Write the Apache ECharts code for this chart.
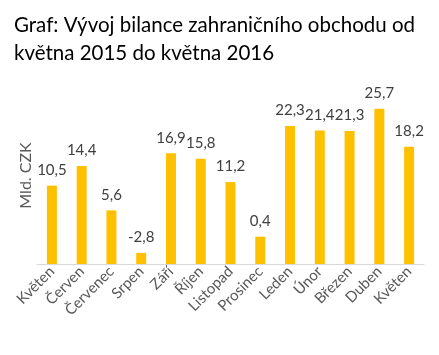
<!DOCTYPE html>
<html>
<head>
<meta charset="utf-8">
<script src="https://cdn.jsdelivr.net/npm/echarts@6/dist/echarts.min.js"></script>
<style>
html,body{margin:0;padding:0;background:#fff;}
#chart{width:439px;height:355px;}
</style>
</head>
<body>
<div id="chart"></div>
<script>
const titleLines = ['Graf: Vývoj bilance zahraničního obchodu od', 'května 2015 do května 2016'];
const categories = ['Květen', 'Červen', 'Červenec', 'Srpen', 'Září', 'Říjen', 'Listopad', 'Prosinec', 'Leden', 'Únor', 'Březen', 'Duben', 'Květen'];
const values = [10.5, 14.4, 5.6, -2.8, 16.9, 15.8, 11.2, 0.4, 22.3, 21.4, 21.3, 25.7, 18.2];
const axisName = 'Mld. CZK';
const axisMin = -5;
const axisMax = 30;

const chart = echarts.init(document.getElementById('chart'), null, {renderer: 'canvas'});
chart.setOption({
  animation: false,
  backgroundColor: '#fff',
  title: {
    text: titleLines.join('\n'),
    left: 9,
    top: 6,
    textStyle: {fontFamily: 'Lato', fontSize: 20.5, fontWeight: 'normal', color: '#000', lineHeight: 28}
  },
  grid: {left: 37, right: 15, top: 87, bottom: 91, containLabel: false},
  xAxis: {
    type: 'category',
    data: categories,
    axisLine: {onZero: false, lineStyle: {color: '#D9D9D9', width: 1}},
    axisTick: {show: false},
    axisLabel: {rotate: 45, interval: 0, margin: 5, color: '#595959', fontFamily: 'Lato', fontSize: 15}
  },
  yAxis: {
    type: 'value',
    min: axisMin,
    max: axisMax,
    startValue: axisMin,
    name: axisName,
    nameLocation: 'middle',
    nameGap: 3,
    nameTextStyle: {color: '#595959', fontFamily: 'Lato', fontSize: 16},
    axisLine: {show: false},
    axisTick: {show: false},
    axisLabel: {show: false},
    splitLine: {show: false}
  },
  series: [{
    type: 'bar',
    data: values,
    barWidth: 10,
    itemStyle: {color: '#FFC000'},
    label: {
      show: true,
      position: 'top',
      distance: 8,
      color: '#404040',
      fontFamily: 'Lato',
      fontSize: 15,
      formatter: p => String(p.value).replace('.', ',')
    }
  }]
});
</script>
</body>
</html>
